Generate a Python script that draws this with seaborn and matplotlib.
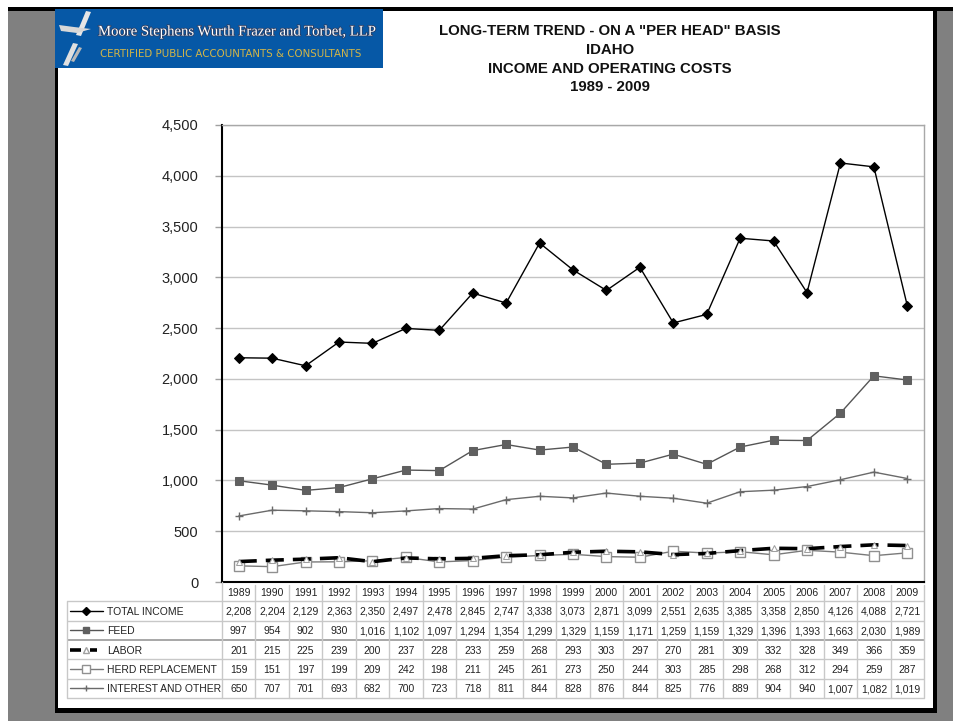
import numpy as np
import pandas as pd
import matplotlib
matplotlib.use("Agg")
import matplotlib.pyplot as plt
import seaborn as sns
from matplotlib.patches import Rectangle, Polygon
from matplotlib.lines import Line2D
import matplotlib.patheffects as pe

# ---------------- data ----------------
years = [1989, 1990, 1991, 1992, 1993, 1994, 1995, 1996, 1997, 1998, 1999,
         2000, 2001, 2002, 2003, 2004, 2005, 2006, 2007, 2008, 2009]
total_income = [2208, 2204, 2129, 2363, 2350, 2497, 2478, 2845, 2747, 3338, 3073,
                2871, 3099, 2551, 2635, 3385, 3358, 2850, 4126, 4088, 2721]
feed = [997, 954, 902, 930, 1016, 1102, 1097, 1294, 1354, 1299, 1329,
        1159, 1171, 1259, 1159, 1329, 1396, 1393, 1663, 2030, 1989]
labor = [201, 215, 225, 239, 200, 237, 228, 233, 259, 268, 293,
         303, 297, 270, 281, 309, 332, 328, 349, 366, 359]
herd_replacement = [159, 151, 197, 199, 209, 242, 198, 211, 245, 261, 273,
                    250, 244, 303, 285, 298, 268, 312, 294, 259, 287]
interest_other = [650, 707, 701, 693, 682, 700, 723, 718, 811, 844, 828,
                  876, 844, 825, 776, 889, 904, 940, 1007, 1082, 1019]
series_names = ["TOTAL INCOME", "FEED", "LABOR", "HERD REPLACEMENT", "INTEREST AND OTHER"]
y_ticks = [0, 500, 1000, 1500, 2000, 2500, 3000, 3500, 4000, 4500]
title_lines = ['LONG-TERM TREND - ON A "PER HEAD" BASIS', 'IDAHO',
               'INCOME AND OPERATING COSTS', '1989 - 2009']

series_values = [total_income, feed, labor, herd_replacement, interest_other]

# ---------------- setup ----------------
W, H = 954, 721
sns.set_theme(style="white")
plt.rcParams['font.family'] = ['Liberation Sans', 'DejaVu Sans']
fig = plt.figure(figsize=(W / 100, H / 100), dpi=100)
fig.patch.set_facecolor('white')


def fx(x):
    return x / W


def fy(y):
    return 1 - y / H


def rect(x0, y0, x1, y1, color, z=-10):
    fig.add_artist(Rectangle((fx(x0), fy(y1)), fx(x1) - fx(x0), fy(y0) - fy(y1),
                             transform=fig.transFigure, facecolor=color,
                             edgecolor='none', zorder=z))


# page background / frame
rect(8, 11, 954, 721, '#808080', -20)
rect(8, 7, 954, 11, '#000000', -19)
rect(55, 11, 937, 713, '#000000', -18)
rect(58, 11, 933, 708, '#ffffff', -17)

# logo
rect(55, 9, 383, 68, '#0658A6', -5)
icon_polys = [
    ([(86, 11), (91, 12), (81, 36), (76, 35)], '#E6E6E6'),
    ([(59, 25), (74, 27), (91, 29), (77, 33), (61, 31)], '#D8D8D8'),
    ([(73, 43), (78, 44), (68, 66), (63, 65)], '#E0E0E0'),
    ([(79, 47), (82, 48), (74, 62), (71, 61)], '#B8B8B8'),
]
for pts, col in icon_polys:
    fig.add_artist(Polygon([(fx(a), fy(b)) for a, b in pts], closed=True,
                           transform=fig.transFigure, facecolor=col,
                           edgecolor='none', zorder=-4))
fig.text(fx(98), fy(32), "Moore Stephens Wurth Frazer and Torbet, LLP",
         family=['Liberation Serif', 'DejaVu Serif'], fontsize=10.6, color='white',
         ha='left', va='center', zorder=-3,
         path_effects=[pe.withStroke(linewidth=1.2, foreground='#2a3f66')])
fig.text(fx(100), fy(54), "CERTIFIED PUBLIC ACCOUNTANTS & CONSULTANTS",
         family=['DejaVu Sans'], fontsize=7.4, color='#D2B548',
         ha='left', va='center', zorder=-3)

# title
for i, line in enumerate(title_lines):
    fig.text(fx(610), fy(31 + i * 18.8), line, fontsize=10.8, fontweight='bold',
             color='#111111', ha='center', va='center')

# ---------------- main axes ----------------
ax = fig.add_axes([fx(222), fy(582), (924 - 222) / W, (582 - 125) / H])
ax.set_facecolor('none')
x_idx = np.arange(len(years))

styles = [
    dict(color='black', lw=1.0, marker='D', ms=4.8, mfc='black', mec='black'),
    dict(color='#555555', lw=1.0, marker='s', ms=6, mfc='#606060', mec='#606060'),
    dict(color='black', lw=2.6, marker='^', ms=5, mfc='white', mec='#A0A0A0',
         dashes=(5, 2.5)),
    dict(color='#7a7a7a', lw=1.0, marker='s', ms=7.5, mfc='white', mec='#909090', mew=1.0),
    dict(color='#6a6a6a', lw=1.0, marker='+', ms=6, mec='#6a6a6a', mew=1.0),
]
order = [4, 3, 2, 1, 0]
for k in order:
    st = dict(styles[k])
    dashes = st.pop('dashes', None)
    color = st.pop('color')
    lw = st.pop('lw')
    sns.lineplot(x=x_idx, y=series_values[k], ax=ax, color=color, linewidth=lw,
                 zorder=3 + (5 - k), **st)
    if dashes is not None:
        ax.lines[-1].set_dashes(dashes)

ax.set_xlim(-0.5, len(years) - 0.5)
ax.set_ylim(0, 4500)
ax.set_yticks(y_ticks)
ax.set_yticklabels([f"{v:,}" for v in y_ticks], fontsize=10.5, color='#222222')
ax.set_xticks([])
for v in y_ticks[1:]:
    ax.axhline(v, color='#C4C4C4', lw=1.0, zorder=1)
ax.axhline(4500, color='#A8A8A8', lw=1.2, zorder=1)
ax.tick_params(axis='y', which='both', left=True, length=5, width=1,
               color='#A0A0A0', pad=12, direction='out')
for s in ['top', 'right']:
    ax.spines[s].set_color('#A8A8A8')
    ax.spines[s].set_linewidth(1.0)
for s in ['left', 'bottom']:
    ax.spines[s].set_color('black')
    ax.spines[s].set_linewidth(1.5)
ax.set_xlabel('')
ax.set_ylabel('')
ax.get_legend() and ax.get_legend().remove()

# ---------------- data table ----------------
lab_w = (222 - 67) / ((924 - 222) / len(years))
tax = fig.add_axes([fx(67), fy(698), (924 - 67) / W, (698 - 582) / H])
tax.set_xlim(-0.5 - lab_w, len(years) - 0.5)
tax.set_ylim(6, 0)
tax.axis('off')
gc = '#C8C8C8'
left = -0.5 - lab_w
right = len(years) - 0.5
# horizontal lines
for r in range(1, 7):
    c = '#A0A0A0' if r == 3 else gc
    tax.plot([left, right], [r, r], color=c, lw=1.3 if r == 3 else 1.0,
             solid_capstyle='butt', zorder=1, clip_on=False)
# vertical lines
tax.plot([left, left], [1, 6], color=gc, lw=1.0, zorder=1, clip_on=False)
for j in range(len(years) + 1):
    tax.plot([j - 0.5, j - 0.5], [0.15 if j > 0 else 0, 6], color=gc, lw=1.0,
             zorder=1, clip_on=False)
# year header
for j, yv in enumerate(years):
    tax.text(j, 0.55, str(yv), ha='center', va='center', fontsize=7.5, color='#222222')
# rows
for r, (name, vals) in enumerate(zip(series_names, series_values)):
    yc = r + 1.55
    tax.text(left + 1.2, yc, name, ha='left', va='center', fontsize=7.5,
             color='#222222')
    for j, v in enumerate(vals):
        tax.text(j, yc, f"{v:,}", ha='center', va='center', fontsize=7.5,
                 color='#222222')

# legend keys inside table
ppc = (924 - 222) / len(years)  # pixels per column


def px2col(px):
    return left + (px - 67) / ppc


key_y = [r + 1.5 for r in range(5)]
x0, x1, xm = px2col(70), px2col(103), px2col(86.5)
# total income
tax.plot([x0, x1], [key_y[0]] * 2, color='black', lw=1.0)
tax.plot([xm], [key_y[0]], marker='D', ms=4, color='black')
# feed
tax.plot([x0, x1], [key_y[1]] * 2, color='#555555', lw=1.0)
tax.plot([xm], [key_y[1]], marker='s', ms=5, color='#606060')
# labor
tax.plot([x0, px2col(81)], [key_y[2]] * 2, color='black', lw=2.6, solid_capstyle='butt')
tax.plot([px2col(90), px2col(97)], [key_y[2]] * 2, color='black', lw=2.6,
         solid_capstyle='butt')
tax.plot([xm], [key_y[2]], marker='^', ms=4, mfc='white', mec='#A0A0A0', lw=0)
# herd
tax.plot([x0, x1], [key_y[3]] * 2, color='#7a7a7a', lw=1.0)
tax.plot([xm], [key_y[3]], marker='s', ms=6, mfc='white', mec='#909090', lw=0)
# interest
tax.plot([x0, x1], [key_y[4]] * 2, color='#6a6a6a', lw=1.0)
tax.plot([xm], [key_y[4]], marker='+', ms=5, mec='#6a6a6a', mew=1.0, lw=0)

fig.savefig("out.png", dpi=100, facecolor='white')
